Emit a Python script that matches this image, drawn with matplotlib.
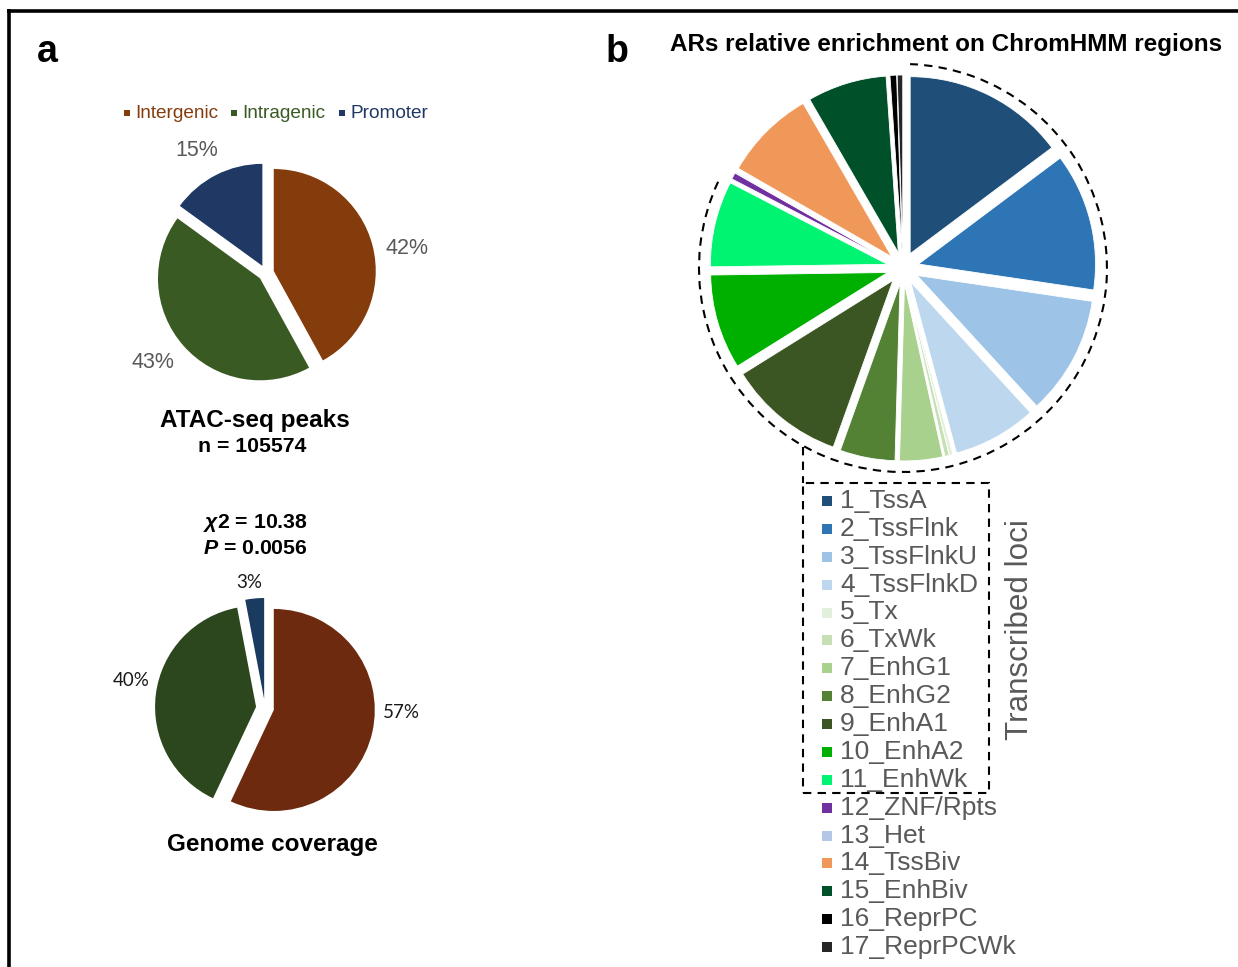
import matplotlib
matplotlib.use('Agg')
import matplotlib.pyplot as plt
from matplotlib.patches import Arc, Rectangle

W, H = 1238, 967

# panel a: genomic distribution
region_names = ['Intergenic', 'Intragenic', 'Promoter']
atac_pct = [42, 43, 15]
genome_pct = [57, 40, 3]
atac_colors = ['#843C0C', '#3A5A23', '#1F3864']
genome_colors = ['#6E2A0E', '#2C471D', '#1B3A5F']
# where each percentage label sits (pixels, from top-left)
atac_label_pos = [(407, 248), (153, 362), (197, 150)]
genome_label_pos = [(401, 713), (131, 680), (249, 583)]

# panel b: ChromHMM states
chromhmm_states = ['1_TssA', '2_TssFlnk', '3_TssFlnkU', '4_TssFlnkD', '5_Tx', '6_TxWk',
                   '7_EnhG1', '8_EnhG2', '9_EnhA1', '10_EnhA2', '11_EnhWk', '12_ZNF/Rpts',
                   '13_Het', '14_TssBiv', '15_EnhBiv', '16_ReprPC', '17_ReprPCWk']
chromhmm_enrich = [14.7, 12.5, 10.8, 7.6, 0.3, 0.4, 3.9, 5.0, 10.6, 8.6, 7.8, 0.6,
                   0.1, 8.3, 7.2, 0.6, 0.5]
chromhmm_colors = ['#1F4E79', '#2E75B6', '#9DC3E6', '#BDD7EE', '#E2EFDA', '#C6E0B4',
                   '#A9D18E', '#548235', '#3B5623', '#00B000', '#00F472', '#7030A0',
                   '#B4C7E7', '#F0985A', '#00502A', '#000000', '#262626']

plt.rcParams['font.family'] = ['Liberation Sans', 'DejaVu Sans']
plt.rcParams['mathtext.fontset'] = 'custom'
plt.rcParams['mathtext.it'] = 'Liberation Sans:italic:bold'
plt.rcParams['mathtext.rm'] = 'Liberation Sans:bold'


def Y(y):
    return H - y


fig = plt.figure(figsize=(W / 100, H / 100), dpi=100)
ax = fig.add_axes([0, 0, 1, 1])

# --- panel a, top pie (explode is in data units = pixels here) ---
ax.pie(atac_pct, colors=atac_colors, startangle=90, counterclock=False,
       center=(266, Y(273)), radius=102, explode=[8] * 3)
for v, (lx, ly) in zip(atac_pct, atac_label_pos):
    ax.text(lx, Y(ly), f'{v}%', fontsize=15.5, color='#595959', ha='center', va='center')

# --- panel a, bottom pie ---
ax.pie(genome_pct, colors=genome_colors, startangle=90, counterclock=False,
       center=(265, Y(708)), radius=101, explode=[9] * 3)
for v, (lx, ly) in zip(genome_pct, genome_label_pos):
    ax.text(lx, Y(ly), f'{v}%', fontsize=13.5, color='#1a1a1a', family='Lato',
            ha='center', va='center')

# legend row above the top pie
leg_x = [127, 234, 342]
for x, name, c in zip(leg_x, region_names, atac_colors):
    ax.scatter(x, Y(113), marker='s', s=16, color=c, linewidths=0)
    ax.text(x + 8, Y(113), name, color=c, fontsize=13.7, ha='left', va='center')

ax.text(47, Y(52), 'a', fontsize=27, fontweight='bold', ha='center', va='center')
ax.text(255, Y(421), 'ATAC-seq peaks', fontsize=17.5, fontweight='bold', ha='center', va='center')
ax.text(252, Y(447), 'n = 105574', fontsize=15.3, fontweight='bold', ha='center', va='center')
ax.text(255, Y(523), r'$\chi$2 = 10.38', fontsize=15.3, fontweight='bold', ha='center', va='center')
ax.text(255, Y(548), r'$P$ = 0.0056', fontsize=15.3, fontweight='bold', ha='center', va='center')
ax.text(272, Y(845), 'Genome coverage', fontsize=17.5, fontweight='bold', ha='center', va='center')

# --- panel b ---
ax.text(617, Y(52), 'b', fontsize=27, fontweight='bold', ha='center', va='center')
ax.text(946, Y(45), 'ARs relative enrichment on ChromHMM regions', fontsize=17.5,
        fontweight='bold', ha='center', va='center')

cx, cy = 903, Y(268)
ax.pie(chromhmm_enrich, colors=chromhmm_colors, startangle=90, counterclock=False,
       center=(cx, cy), radius=177, explode=[16] * len(chromhmm_enrich),
       wedgeprops=dict(edgecolor='white', linewidth=0.6))

# dashed outline around the transcribed states
ax.add_patch(Arc((cx, cy), 408, 408, theta1=155, theta2=88, color='black',
                 linestyle=(0, (4, 3)), linewidth=1.5))
ax.plot([803, 803], [Y(447), Y(483)], color='black', linestyle=(0, (4, 3)), linewidth=1.5)
ax.add_patch(Rectangle((803, Y(793)), 186, 310, fill=False, edgecolor='black',
                       linestyle=(0, (4, 3)), linewidth=1.5))

row0, step = 501, 27.875
for i, (name, c) in enumerate(zip(chromhmm_states, chromhmm_colors)):
    yy = Y(row0 + i * step)
    ax.scatter(826.5, yy, marker='s', s=60, color=c, linewidths=0)
    ax.text(840, yy, name, fontsize=19, color='#595959', ha='left', va='center')

ax.text(1020, Y(630), 'Transcribed loci', fontsize=22.6, color='#595959', rotation=90,
        ha='center', va='center')

# outer frame
ax.plot([7, W], [Y(11), Y(11)], color='black', linewidth=2.6, solid_capstyle='butt')
ax.plot([9, 9], [Y(9), 0], color='black', linewidth=2.6, solid_capstyle='butt')

ax.set_xlim(0, W)
ax.set_ylim(0, H)
ax.set_aspect('equal')
ax.axis('off')

fig.savefig('out.png', dpi=100)
plt.close(fig)
